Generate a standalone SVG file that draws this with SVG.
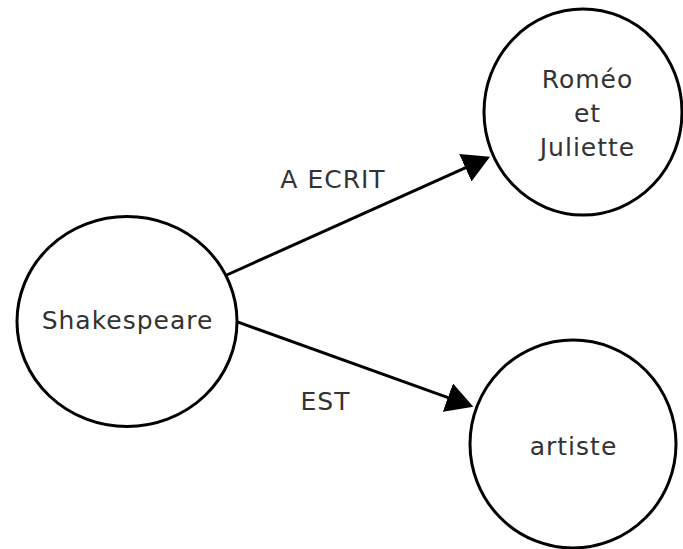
<svg xmlns="http://www.w3.org/2000/svg" width="683" height="549" viewBox="0 0 683 549">
<style>
.node{fill:#fff;stroke:#000;stroke-width:3}
.lbl{font-family:"DejaVu Sans",sans-serif;font-size:25px;letter-spacing:1px;fill:#333;text-anchor:middle}
.edge{stroke:#000;stroke-width:3;fill:none}
</style>
<defs>
<marker id="arr" markerUnits="userSpaceOnUse" markerWidth="28" markerHeight="30" viewBox="0 0 28 30" refX="12" refY="15" orient="auto">
<path d="M0,0 L27,15 L0,30 z" fill="#000"/>
</marker>
</defs>
<rect width="683" height="549" fill="#fff"/>
<g id="connectors">
<line class="edge" x1="226.7" y1="275" x2="476.3" y2="162.8" marker-end="url(#arr)"/>
<line class="edge" x1="236.7" y1="321.7" x2="459.2" y2="401.6" marker-end="url(#arr)"/>
<text class="lbl" x="333" y="188">A ECRIT</text>
<text class="lbl" x="325.5" y="410">EST</text>
</g>
<g id="shakespeare">
<ellipse class="node" cx="127" cy="321.5" rx="110" ry="105"/>
<text class="lbl" x="127.5" y="329">Shakespeare</text>
</g>
<g id="romeo">
<ellipse class="node" cx="583" cy="112" rx="99" ry="103"/>
<text class="lbl" x="587.5" y="88">Roméo</text>
<text class="lbl" x="587.5" y="122">et</text>
<text class="lbl" x="587.5" y="156">Juliette</text>
</g>
<g id="artiste">
<ellipse class="node" cx="573" cy="444" rx="103" ry="104"/>
<text class="lbl" x="573.5" y="455">artiste</text>
</g>
</svg>
